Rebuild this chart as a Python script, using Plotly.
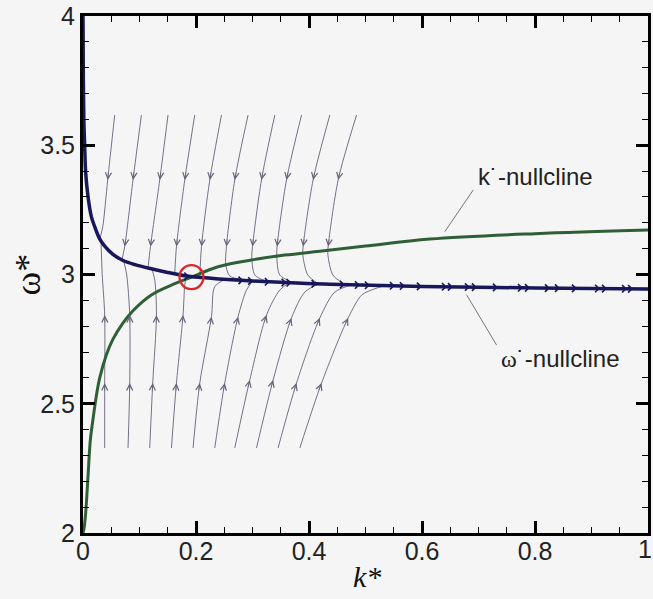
import numpy as np
import plotly.graph_objects as go

# ---------------- data ----------------
# k*-nullcline (green)
knull_k = [0.0, 0.002, 0.0048, 0.0089, 0.0130, 0.0177, 0.0236, 0.0296, 0.0414, 0.0531,
           0.070, 0.0885, 0.121, 0.1565, 0.192, 0.239, 0.298, 0.357, 0.419, 0.5,
           0.614, 0.8, 1.0]
knull_w = [2.0, 2.02, 2.08, 2.22, 2.36, 2.44, 2.53, 2.60, 2.69, 2.75,
           2.81, 2.86, 2.921, 2.959, 2.99, 3.030, 3.056, 3.075, 3.090, 3.11,
           3.137, 3.158, 3.172]

# omega*-nullcline (navy)
wnull_k = [0.0, 0.0006, 0.0015, 0.003, 0.0048, 0.0089, 0.0148, 0.0207, 0.0290, 0.0384,
           0.053, 0.070, 0.092, 0.121, 0.150, 0.180, 0.21, 0.24, 0.30, 0.36,
           0.437, 0.6, 0.8, 1.0]
wnull_w = [4.0, 3.75, 3.60, 3.494, 3.392, 3.301, 3.224, 3.185, 3.140, 3.110,
           3.078, 3.055, 3.038, 3.022, 3.008, 2.995, 2.988, 2.983, 2.975, 2.969,
           2.962, 2.954, 2.948, 2.944]

# equilibrium point
eq_k = [0.192]
eq_w = [2.99]

# trajectories starting from the top (omega* = 3.62)
upper_k = [
    [0.0561, 0.0437, 0.0349, 0.0300],
    [0.1034, 0.0885, 0.0738, 0.0690],
    [0.1505, 0.1358, 0.1194, 0.1151],
    [0.1978, 0.1801, 0.1654, 0.1624],
    [0.2451, 0.2244, 0.2097, 0.2067],
    [0.2922, 0.2686, 0.2539, 0.2527, 0.2598, 0.2828],
    [0.3395, 0.3159, 0.3000, 0.2987, 0.3041, 0.3218],
    [0.3868, 0.3602, 0.3435, 0.3430, 0.3483, 0.3696],
    [0.4369, 0.4073, 0.3896, 0.3891, 0.3979, 0.4156],
    [0.4842, 0.4516, 0.4339, 0.4333, 0.4422, 0.4634],
]
upper_w = [
    [3.617, 3.366, 3.184, 3.140],
    [3.617, 3.366, 3.108, 3.057],
    [3.617, 3.366, 3.108, 3.026],
    [3.617, 3.366, 3.108, 3.004],
    [3.617, 3.366, 3.108, 2.988],
    [3.617, 3.366, 3.108, 3.037, 2.994, 2.981],
    [3.617, 3.366, 3.108, 3.064, 2.998, 2.976],
    [3.617, 3.366, 3.108, 3.064, 2.998, 2.971],
    [3.617, 3.366, 3.108, 3.075, 2.998, 2.966],
    [3.617, 3.366, 3.108, 3.080, 2.998, 2.962],
]
upper_arrows = [[1], [1, 2], [1, 2], [1, 2], [1, 2], [1, 2], [1, 2], [1, 2], [1, 2], [1, 2]]

# trajectories starting from the bottom (omega* = 2.33)
lower_k = [
    [0.0384, 0.0384, 0.0384, 0.0340, 0.0320],
    [0.0797, 0.0827, 0.0827, 0.0774, 0.0721],
    [0.1181, 0.1234, 0.1300, 0.1270, 0.1217],
    [0.1565, 0.1654, 0.1771, 0.1801, 0.1831],
    [0.1948, 0.2067, 0.2274, 0.2332, 0.2539],
    [0.2332, 0.2509, 0.2745, 0.2894, 0.3005],
    [0.2686, 0.2952, 0.3248, 0.3483, 0.3660],
    [0.3071, 0.3365, 0.3690, 0.3926, 0.4192],
    [0.3453, 0.3779, 0.4192, 0.4457, 0.4776],
    [0.3838, 0.4222, 0.4693, 0.4935, 0.5166, 0.5343],
]
lower_w = [
    [2.329, 2.580, 2.843, 3.000, 3.125],
    [2.329, 2.580, 2.843, 2.998, 3.052],
    [2.329, 2.580, 2.843, 2.979, 3.023],
    [2.329, 2.580, 2.843, 2.959, 2.993],
    [2.329, 2.580, 2.837, 2.953, 2.984],
    [2.329, 2.580, 2.837, 2.940, 2.975],
    [2.329, 2.592, 2.843, 2.940, 2.969],
    [2.329, 2.592, 2.832, 2.932, 2.965],
    [2.329, 2.580, 2.832, 2.932, 2.961],
    [2.329, 2.580, 2.832, 2.921, 2.945, 2.957],
]
lower_arrows = [[1, 2]] * 10

# arrow positions along the omega*-nullcline
navy_arrow_k = [0.188, 0.2839, 0.3010, 0.3306, 0.3602, 0.3690, 0.4133, 0.4634, 0.4900,
                0.5077, 0.5519, 0.5696, 0.5997, 0.6440, 0.6546, 0.6847, 0.6971,
                0.7343, 0.7786, 0.7910, 0.8264, 0.8441, 0.8742, 0.9150, 0.9273,
                0.9628, 0.9734]

# labels
klabel_text = "k˙-nullcline"
klabel_pos = (0.8017, 3.378)
klabel_leader_k = [0.6906, 0.6405]
klabel_leader_w = [3.327, 3.166]
wlabel_text = '<span style="font-family:Liberation Serif">ω</span>˙-nullcline'
wlabel_pos = (0.845, 2.677)
wlabel_leader_k = [0.679, 0.732]
wlabel_leader_w = [2.921, 2.727]

x_tickvals = [0, 0.2, 0.4, 0.6, 0.8, 1.0]
x_ticktext = ["0", "0.2", "0.4", "0.6", "0.8", ""]
x_last_label = "1"          # drawn separately so it stays inside the window
y_tickvals = [2, 2.5, 3, 3.5, 4]
y_ticktext = ["2", "2.5", "3", "3.5", "4"]

# ---------------- styling ----------------
W, H = 653, 599
ML, MR, MT, MB = 83, 5, 16, 66
PW, PH = W - ML - MR, H - MT - MB
XR, YR = (0.0, 1.0), (2.0, 4.0)
SX = PW / (XR[1] - XR[0])
SY = PH / (YR[1] - YR[0])

BG = "#f5f5f5"
SL_COLOR = "#676178"
NAVY = "#17175a"
GREEN = "#2f5f36"
RED = "#d8262b"

fig = go.Figure()
annotations = []


def arrow_annot(k, w, dk, dw, color, head, size, width, L=9):
    ux, uy = dk * SX, -dw * SY
    n = np.hypot(ux, uy)
    ux, uy = ux / n, uy / n
    return dict(x=k, y=w, xref="x", yref="y", ax=-L * ux, ay=-L * uy,
                axref="pixel", ayref="pixel", showarrow=True, text="",
                arrowhead=head, arrowsize=size, arrowwidth=width, arrowcolor=color,
                standoff=0)


for ks, ws, idxs in list(zip(upper_k, upper_w, upper_arrows)) + list(zip(lower_k, lower_w, lower_arrows)):
    fig.add_trace(go.Scatter(x=ks, y=ws, mode="lines",
                             line=dict(color=SL_COLOR, width=0.9, shape="spline", smoothing=0.8),
                             hoverinfo="skip", showlegend=False))
    for i in idxs:
        dk = ks[i + 1] - ks[i - 1]
        dw = ws[i + 1] - ws[i - 1]
        annotations.append(arrow_annot(ks[i], ws[i], dk, dw, SL_COLOR, 5, 1.5, 0.8))

# nullclines
fig.add_trace(go.Scatter(x=knull_k, y=knull_w, mode="lines",
                         line=dict(color=GREEN, width=3, shape="spline", smoothing=1.0),
                         hoverinfo="skip", showlegend=False))
fig.add_trace(go.Scatter(x=wnull_k, y=wnull_w, mode="lines",
                         line=dict(color=NAVY, width=3.5, shape="spline", smoothing=1.0),
                         hoverinfo="skip", showlegend=False))

for k in navy_arrow_k:
    w = float(np.interp(k, wnull_k, wnull_w))
    annotations.append(arrow_annot(k, w, 1.0, 0.0, NAVY, 4, 1.2, 1.2, L=8))

# leaders
for lk, lw in ((klabel_leader_k, klabel_leader_w), (wlabel_leader_k, wlabel_leader_w)):
    fig.add_trace(go.Scatter(x=lk, y=lw, mode="lines",
                             line=dict(color="#555555", width=0.8),
                             hoverinfo="skip", showlegend=False))

# equilibrium
fig.add_trace(go.Scatter(x=eq_k, y=eq_w, mode="markers",
                         marker=dict(symbol="circle-open", size=24, color=RED,
                                     line=dict(color=RED, width=2.3)),
                         hoverinfo="skip", showlegend=False))

LABEL_FONT = dict(family="Liberation Sans, Arial, sans-serif", size=24, color="#222222")
annotations.append(dict(x=klabel_pos[0], y=klabel_pos[1], xref="x", yref="y", text=klabel_text,
                        showarrow=False, font=LABEL_FONT, xanchor="center", yanchor="middle"))
annotations.append(dict(x=wlabel_pos[0], y=wlabel_pos[1], xref="x", yref="y", text=wlabel_text,
                        showarrow=False, font=LABEL_FONT, xanchor="center", yanchor="middle"))

# axis titles
annotations.append(dict(x=-56 / PW, y=0.5, xref="paper", yref="paper", text="ω*",
                        textangle=-90, showarrow=False, xanchor="center", yanchor="middle",
                        font=dict(family="Liberation Serif, Times New Roman, serif", size=36, color="#111111")))
annotations.append(dict(x=0.503, y=-43 / PH, xref="paper", yref="paper", text="<i>k*</i>",
                        showarrow=False, xanchor="center", yanchor="middle",
                        font=dict(family="Liberation Serif, Times New Roman, serif", size=30, color="#111111")))

TICK_FONT = dict(family="Liberation Sans, Arial, sans-serif", size=25, color="#222222")

# last x tick label, kept inside the window at the right edge
annotations.append(dict(x=(W - ML) / PW, y=-16 / PH, xref="paper", yref="paper", text=x_last_label,
                        showarrow=False, xanchor="right", yanchor="middle", font=TICK_FONT,
                        borderpad=0))

axis_common = dict(showline=True, linewidth=3, linecolor="black", mirror="allticks",
                   ticks="inside", ticklen=12, tickwidth=2.5, tickcolor="black",
                   showgrid=False, zeroline=False, tickfont=TICK_FONT, fixedrange=True,
                   automargin=False, ticklabeloverflow="allow")

fig.update_layout(
    width=W, height=H,
    margin=dict(l=ML, r=MR, t=MT, b=MB),
    paper_bgcolor=BG, plot_bgcolor=BG,
    showlegend=False,
    annotations=annotations,
    xaxis=dict(range=list(XR), tickvals=x_tickvals, ticktext=x_ticktext,
               ticklabelstandoff=-6,
               minor=dict(dtick=0.05, ticks="inside", ticklen=6, tickwidth=1.2, tickcolor="black"),
               **axis_common),
    yaxis=dict(range=list(YR), tickvals=y_tickvals, ticktext=y_ticktext,
               minor=dict(dtick=0.1, ticks="inside", ticklen=6, tickwidth=1.2, tickcolor="black"),
               **axis_common),
)

fig.write_html("out.html", config={"displayModeBar": False},
               post_script="document.body.style.margin='0';document.body.style.background='%s';" % BG)
